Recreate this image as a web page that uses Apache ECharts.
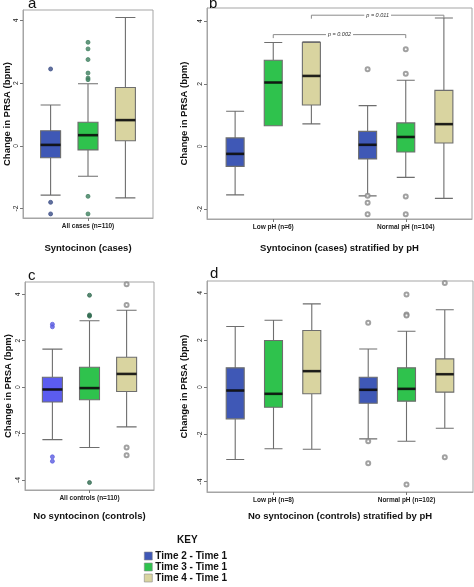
<!DOCTYPE html>
<html><head><meta charset="utf-8">
<script src="https://cdn.jsdelivr.net/npm/echarts@6/dist/echarts.min.js"></script>
<style>html,body{margin:0;padding:0;background:#fff}#c{width:474px;height:587px}</style>
</head><body><div id="c"></div>
<script>
// ---------- data ----------
const timeNames = ['Time 2 - Time 1', 'Time 3 - Time 1', 'Time 4 - Time 1'];

const catsA = ['All cases (n=110)'];
const catsB = ['Low pH (n=6)', 'Normal pH (n=104)'];
const catsC = ['All controls (n=110)'];
const catsD = ['Low pH (n=8)', 'Normal pH (n=102)'];

const titleA = 'Syntocinon (cases)';
const titleB = 'Syntocinon (cases) stratified by pH';
const titleC = 'No syntocinon (controls)';
const titleD = 'No syntocinon (controls) stratified by pH';
const yName = 'Change in PRSA (bpm)';

const ticksAB = [-2, 0, 2, 4];
const ticksCD = [-4, -2, 0, 2, 4];

// box stats per category: [min, Q1, median, Q3, max]
const aBoxT2 = [[-1.57, -0.38, 0.03, 0.48, 1.30]];
const aBoxT3 = [[-0.97, -0.13, 0.34, 0.75, 1.98]];
const aBoxT4 = [[-1.66, 0.16, 0.82, 1.86, 4.09]];
const aOutT2 = [[2.45, -1.80, -2.17]];
const aOutT3 = [[3.30, 3.09, 2.75, 2.32, 2.16, 2.11, -1.61, -2.17]];
const aOutT4 = [[]];

const bBoxT2 = [[-1.55, -0.64, -0.24, 0.27, 1.12], [-1.58, -0.40, 0.05, 0.48, 1.30]];
const bBoxT3 = [[0.66, 0.66, 2.04, 2.75, 3.32], [-0.99, -0.18, 0.30, 0.75, 2.11]];
const bBoxT4 = [[0.72, 1.32, 2.25, 3.32, 3.34], [-1.66, 0.11, 0.71, 1.79, 4.10]];
const bOutT2 = [[], [2.46, -1.58, -1.80, -2.17]];
const bOutT3 = [[], [3.10, 2.32, -1.60, -2.17]];
const bOutT4 = [[], []];

const cBoxT2 = [[-2.26, -0.64, -0.10, 0.43, 1.64]];
const cBoxT3 = [[-2.60, -0.54, -0.04, 0.86, 2.86]];
const cBoxT4 = [[-1.71, -0.19, 0.57, 1.29, 3.31]];
const cOutT2 = [[2.71, 2.60, -3.00, -3.19]];
const cOutT3 = [[3.96, 3.11, 3.06, -4.11]];
const cOutT4 = [[4.43, 3.54, -2.60, -2.93]];

const dBoxT2 = [[-3.06, -1.34, -0.14, 0.82, 2.57], [-2.19, -0.68, -0.11, 0.42, 1.62]];
const dBoxT3 = [[-2.61, -0.85, -0.28, 1.98, 2.84], [-2.29, -0.59, -0.07, 0.82, 2.37]];
const dBoxT4 = [[-2.63, -0.28, 0.68, 2.40, 3.53], [-1.74, -0.21, 0.55, 1.20, 3.28]];
const dOutT2 = [[], [2.73, -2.29, -3.22]];
const dOutT3 = [[], [3.93, 3.08, 3.04, -4.12]];
const dOutT4 = [[], [4.42, -2.97]];

// significance brackets in panel b: [category index from, category index to, time index, bracket value, label]
const bBrackets = [
  [0, 1, 2, 4.19, 'p = 0.011'],
  [0, 1, 1, 3.57, 'p = 0.002']
];

// ---------- style / layout ----------
const FONT = '"Liberation Sans", Arial, sans-serif';
const blueAB = '#3f58b6', blueC = '#5b5cf0', green = '#2fc24d', tan = '#d9d4a0';
const keyColors = [blueAB, green, tan];

const panels = [
  { grid: {left: 23, top: 10, width: 130, height: 208}, cats: catsA, title: titleA, ymin: -2.3, ymax: 4.33, ticks: ticksAB,
    boxes: [aBoxT2, aBoxT3, aBoxT4], outs: [aOutT2, aOutT3, aOutT4], colors: [blueAB, green, tan],
    outStyle: [{sym: 'circle', c: '#3b4d86'}, {sym: 'circle', c: '#3f7f5f'}, {sym: 'circle', c: '#777'}],
    yGap: 10, xGap: 25, bw: 20, letter: 'a', lx: 28, ly: -4 },
  { grid: {left: 207, top: 8, width: 265, height: 211}, cats: catsB, title: titleB, ymin: -2.32, ymax: 4.42, ticks: ticksAB,
    boxes: [bBoxT2, bBoxT3, bBoxT4], outs: [bOutT2, bOutT3, bOutT4], colors: [blueAB, green, tan],
    outStyle: [{sym: 'emptyCircle', c: '#8a8a8a'}, {sym: 'emptyCircle', c: '#8a8a8a'}, {sym: 'emptyCircle', c: '#8a8a8a'}],
    yGap: 18, xGap: 24, bw: 18, letter: 'b', lx: 209, ly: -4 },
  { grid: {left: 25, top: 282, width: 129, height: 208}, cats: catsC, title: titleC, ymin: -4.43, ymax: 4.53, ticks: ticksCD,
    boxes: [cBoxT2, cBoxT3, cBoxT4], outs: [cOutT2, cOutT3, cOutT4], colors: [blueC, green, tan],
    outStyle: [{sym: 'circle', c: '#5b5ce0'}, {sym: 'circle', c: '#2f6a4f'}, {sym: 'emptyCircle', c: '#8a8a8a'}],
    yGap: 12, xGap: 21, bw: 20, letter: 'c', lx: 28, ly: 268 },
  { grid: {left: 207, top: 281, width: 266, height: 211}, cats: catsD, title: titleD, ymin: -4.44, ymax: 4.5, ticks: ticksCD,
    boxes: [dBoxT2, dBoxT3, dBoxT4], outs: [dOutT2, dOutT3, dOutT4], colors: [blueAB, green, tan],
    outStyle: [{sym: 'emptyCircle', c: '#8a8a8a'}, {sym: 'emptyCircle', c: '#8a8a8a'}, {sym: 'emptyCircle', c: '#8a8a8a'}],
    yGap: 12, xGap: 19, bw: 18, letter: 'd', lx: 210, ly: 266 }
];

// same rule ECharts uses to place several boxplot series inside one category band
function boxSpacing(bandWidth) {
  const avail = bandWidth * 0.8 - 2;
  const gap = avail / 3 * 0.3;
  const w = (avail - gap * 2) / 3;
  return gap + w;
}

const grids = [], xAxes = [], yAxes = [], series = [], graphics = [];
panels.forEach((p, pi) => {
  grids.push(Object.assign({show: true, borderColor: '#a5a5a5', borderWidth: 1, backgroundColor: 'transparent', containLabel: false}, p.grid));
  xAxes.push({
    type: 'category', gridIndex: pi, data: p.cats, boundaryGap: true,
    axisLine: {show: true, onZero: false, lineStyle: {color: '#a5a5a5'}},
    axisTick: {show: true, alignWithLabel: true, length: 3, lineStyle: {color: '#777'}},
    axisLabel: {fontSize: 6.5, fontWeight: 'bold', color: '#222', margin: 5, fontFamily: FONT},
    name: p.title, nameLocation: 'middle', nameGap: p.xGap,
    nameTextStyle: {fontSize: 9.5, fontWeight: 'bold', color: '#111', fontFamily: FONT},
    splitLine: {show: false}
  });
  yAxes.push({
    type: 'value', gridIndex: pi, min: p.ymin, max: p.ymax,
    axisLine: {show: true, onZero: false, lineStyle: {color: '#a5a5a5'}},
    axisTick: {show: true, length: 3, customValues: p.ticks, lineStyle: {color: '#777'}},
    axisLabel: {rotate: 90, fontSize: 6.8, color: '#222', margin: 3, customValues: p.ticks, fontFamily: FONT},
    splitLine: {show: false},
    name: yName, nameLocation: 'middle', nameGap: p.yGap, nameRotate: 90,
    nameTextStyle: {fontSize: 9.5, fontWeight: 'bold', color: '#111', fontFamily: FONT}
  });
  const band = p.grid.width / p.cats.length;
  const sp = boxSpacing(band);
  for (let t = 0; t < 3; t++) {
    const off = (t - 1) * sp;
    series.push({
      name: timeNames[t], type: 'boxplot', xAxisIndex: pi, yAxisIndex: pi,
      data: p.boxes[t], boxWidth: [p.bw, p.bw],
      itemStyle: {color: p.colors[t], borderColor: '#6e6e6e', borderWidth: 1.1},
      emphasis: {disabled: true}, silent: true, z: 2
    });
    series.push({
      name: 'median-' + pi + '-' + t, type: 'scatter', xAxisIndex: pi, yAxisIndex: pi,
      data: p.boxes[t].map((d, i) => [i, d[2]]),
      symbol: 'rect', symbolSize: [p.bw, 2.6], symbolOffset: [off, 0],
      itemStyle: {color: '#000'}, silent: true, z: 5
    });
    const od = [];
    p.outs[t].forEach((vals, i) => vals.forEach(v => od.push([i, v])));
    const os = p.outStyle[t];
    series.push({
      name: 'outliers-' + pi + '-' + t, type: 'scatter', xAxisIndex: pi, yAxisIndex: pi,
      data: od, symbol: os.sym, symbolSize: 4, symbolOffset: [off, 0],
      itemStyle: {color: os.c, borderColor: os.c, borderWidth: 0.9}, silent: true, z: 4
    });
  }
  graphics.push({type: 'text', left: p.lx, top: p.ly,
    style: {text: p.letter, font: 'normal 15px ' + FONT, fill: '#111'}});
});

graphics.push({type: 'text', left: 177, top: 535, style: {text: 'KEY', font: 'bold 10px ' + FONT, fill: '#111'}});

const chart = echarts.init(document.getElementById('c'), null, {renderer: 'canvas'});
chart.setOption({
  animation: false,
  backgroundColor: '#fff',
  grid: grids, xAxis: xAxes, yAxis: yAxes, series: series,
  legend: {
    data: timeNames.map((n, i) => ({name: n, itemStyle: {color: keyColors[i], borderColor: '#8a8a8a', borderWidth: 0.6}})),
    orient: 'vertical', left: 144, top: 551, height: 80, padding: 0,
    itemWidth: 8, itemHeight: 8, itemGap: 1,
    icon: 'rect', selectedMode: false,
    textStyle: {fontSize: 10, lineHeight: 10, fontWeight: 'bold', color: '#111', fontFamily: FONT, padding: [0, 0, 0, -2]}
  },
  graphic: graphics
});

// brackets for panel b through the axes' own conversion
const pb = panels[1];
const spB = boxSpacing(pb.grid.width / pb.cats.length);
const extra = [];
bBrackets.forEach((br) => {
  const off = (br[2] - 1) * spB;
  const x1 = chart.convertToPixel({xAxisIndex: 1}, br[0]) + off;
  const x2 = chart.convertToPixel({xAxisIndex: 1}, br[1]) + off;
  const y = chart.convertToPixel({yAxisIndex: 1}, br[3]);
  extra.push({type: 'polyline', shape: {points: [[x1, y + 3.5], [x1, y], [x2, y], [x2, y + 3.5]]},
    style: {stroke: '#8a8a8a', lineWidth: 1, fill: null}, z: 10});
  extra.push({type: 'text', x: (x1 + x2) / 2, y: y, z: 11,
    style: {text: br[4], font: 'italic 5.5px ' + FONT, fill: '#333', align: 'center', verticalAlign: 'middle',
      backgroundColor: '#fff', padding: [0, 2]}});
});
chart.setOption({graphic: graphics.concat(extra)});
</script></body></html>
